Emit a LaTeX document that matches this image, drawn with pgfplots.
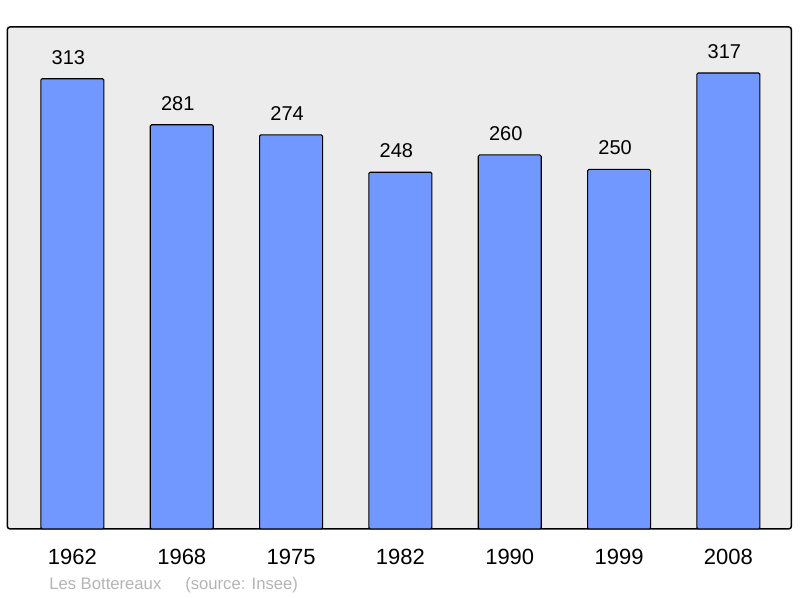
\documentclass[border=0pt]{standalone}
\usepackage{fontspec}
\setmainfont{Liberation Sans}
\usepackage{pgfplots}
\pgfplotsset{compat=1.18}
\definecolor{barblue}{RGB}{112,152,255}
\definecolor{bggray}{RGB}{236,236,236}
\definecolor{foot}{RGB}{180,180,180}
\begin{document}
\begin{tikzpicture}[x=1pt,y=1pt]
\begin{axis}[
  at={(6.75,48)}, anchor=south west,
  scale only axis, width=588pt, height=376.5pt,
  xmin=-0.595, xmax=6.576, ymin=0, ymax=349,
  axis background/.style={fill=bggray},
  axis line style={line width=1.1pt, rounded corners=2pt},
  ytick=\empty,
  xtick={0,...,6},
  xticklabels={1962,1968,1975,1982,1990,1999,2008},
  major tick length=0pt,
  xticklabel style={font=\fontsize{16.5}{18}\selectfont, yshift=-11.5pt},
  /pgf/number format/assume math mode=true,
  ybar, bar width=47.25pt,
  nodes near coords,
  every node near coord/.append style={font=\fontsize{15}{17}\selectfont, yshift=7pt, xshift=-3pt, black},
  clip=false,
]
\addplot[fill=barblue, draw=black, line width=0.8pt, rounded corners=1pt] coordinates {
(0,313) (1,281) (2,274) (3,248) (4,260) (5,250) (6,317)};
\end{axis}
\node[anchor=base west, text=foot, inner sep=0, font=\fontsize{12.5}{14}\selectfont] at (36.75,6) {Les Bottereaux};
\node[anchor=base west, text=foot, inner sep=0, font=\fontsize{12.5}{14}\selectfont] at (138.75,6) {(source: Insee)};
\pgfresetboundingbox
\useasboundingbox (0,0) rectangle (600,448.5);
\end{tikzpicture}
\end{document}
